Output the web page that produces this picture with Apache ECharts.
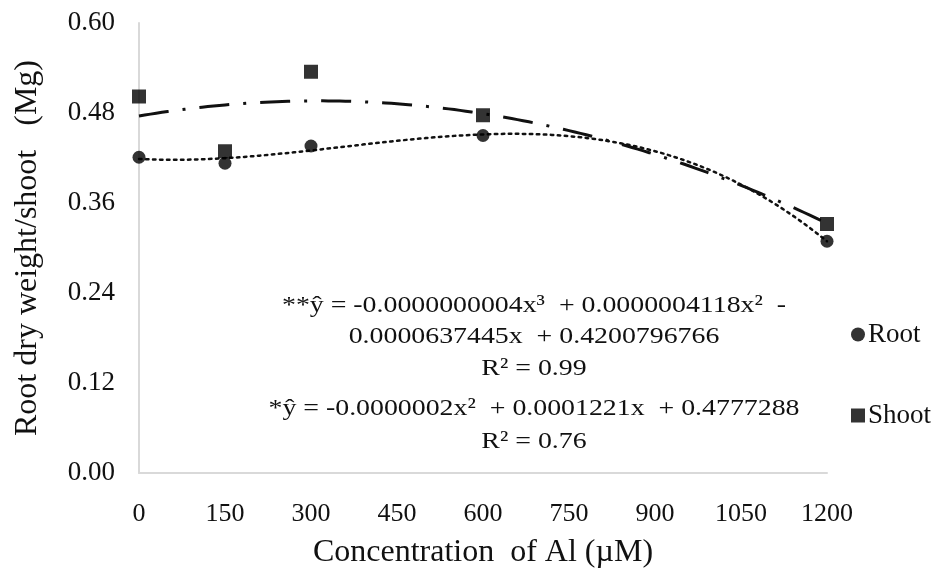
<!DOCTYPE html>
<html>
<head>
<meta charset="utf-8">
<style>
  html, body { margin: 0; padding: 0; background: #fff; }
  #chart { width: 941px; height: 574px; }
</style>
<script src="https://cdn.jsdelivr.net/npm/echarts@6/dist/echarts.min.js"></script>
</head>
<body>
<div id="chart"></div>
<script>
// Al concentrations (µM) and measured ratios
const concentrations = [0, 150, 300, 600, 1200];
const rootValues = [0.421, 0.413, 0.436, 0.450, 0.309];
const shootValues = [0.502, 0.429, 0.535, 0.477, 0.332];
const xTicks = [0, 150, 300, 450, 600, 750, 900, 1050, 1200];
const yTicks = [0.00, 0.12, 0.24, 0.36, 0.48, 0.60];

const equationLines = [
  '**ŷ = -0.0000000004x³  + 0.0000004118x²  -',
  '0.0000637445x  + 0.4200796766',
  'R² = 0.99',
  '*ŷ = -0.0000002x²  + 0.0001221x  + 0.4777288',
  'R² = 0.76'
];
const equationRows = [306, 337, 369, 409, 442];

// Least-squares polynomial fit (x scaled for numerical stability)
function polyFit(xs, ys, degree) {
  const s = 1000;
  const n = degree + 1;
  const A = Array.from({ length: n }, () => new Array(n + 1).fill(0));
  for (let k = 0; k < xs.length; k++) {
    const x = xs[k] / s;
    for (let i = 0; i < n; i++) {
      for (let j = 0; j < n; j++) A[i][j] += Math.pow(x, i + j);
      A[i][n] += ys[k] * Math.pow(x, i);
    }
  }
  for (let c = 0; c < n; c++) {
    let p = c;
    for (let r = c + 1; r < n; r++) if (Math.abs(A[r][c]) > Math.abs(A[p][c])) p = r;
    [A[c], A[p]] = [A[p], A[c]];
    for (let r = 0; r < n; r++) {
      if (r === c) continue;
      const f = A[r][c] / A[c][c];
      for (let j = c; j <= n; j++) A[r][j] -= f * A[c][j];
    }
  }
  const coef = A.map((row, i) => row[n] / row[i]);
  return x => coef.reduce((acc, a, i) => acc + a * Math.pow(x / s, i), 0);
}

function trendPoints(fn) {
  const pts = [];
  for (let x = 0; x <= 1200; x += 10) pts.push([x, fn(x)]);
  return pts;
}

const rootFit = polyFit(concentrations, rootValues, 3);
const shootFit = polyFit(concentrations, shootValues, 2);

const serif = 'Liberation Serif';
const ink = '#111';
const chart = echarts.init(document.getElementById('chart'));

chart.setOption({
  animation: false,
  backgroundColor: '#fff',
  grid: { left: 139, right: 114, top: 23, bottom: 95 },
  xAxis: {
    type: 'value',
    min: 0, max: 1200, interval: 150,
    name: 'Concentration  of Al (µM)',
    nameLocation: 'middle',
    nameGap: 64,
    nameTextStyle: { fontFamily: serif, fontSize: 32, color: ink },
    axisLine: { show: true, lineStyle: { color: '#d9d9d9', width: 2 } },
    axisTick: { show: false },
    splitLine: { show: false },
    axisLabel: { fontFamily: serif, fontSize: 26, color: ink, margin: 28,
      formatter: v => xTicks.includes(v) ? String(v) : '' }
  },
  yAxis: {
    type: 'value',
    min: 0, max: 0.6, interval: 0.12,
    name: 'Root dry weight/shoot   (Mg)',
    nameLocation: 'middle',
    nameGap: 95,
    nameTextStyle: { fontFamily: serif, fontSize: 32, color: ink },
    axisLine: { show: true, lineStyle: { color: '#d9d9d9', width: 2 } },
    axisTick: { show: false },
    splitLine: { show: false },
    axisLabel: { fontFamily: serif, fontSize: 27, color: ink, margin: 24,
      formatter: v => {
        const t = yTicks.find(y => Math.abs(y - v) < 1e-9);
        return t === undefined ? '' : t.toFixed(2);
      } }
  },
  legend: {
    orient: 'vertical',
    left: 846, top: 316,
    itemGap: 54,
    itemWidth: 14, itemHeight: 14,
    textStyle: { fontFamily: serif, fontSize: 27, color: ink, padding: [0, 0, 0, -2] },
    data: [
      { name: 'Root', icon: 'circle' },
      { name: 'Shoot', icon: 'rect' }
    ]
  },
  series: [
    {
      name: 'Root trend',
      type: 'line',
      data: trendPoints(rootFit),
      showSymbol: false,
      lineStyle: { color: ink, width: 2.5, type: [2.5, 4.5], cap: 'round' },
      z: 2
    },
    {
      name: 'Shoot trend',
      type: 'line',
      data: trendPoints(shootFit),
      showSymbol: false,
      lineStyle: { color: ink, width: 3, type: [30, 14, 3, 14] },
      z: 2
    },
    {
      name: 'Root',
      type: 'scatter',
      data: concentrations.map((x, i) => [x, rootValues[i]]),
      symbol: 'circle',
      symbolSize: 13,
      itemStyle: { color: '#000' },
      z: 3
    },
    {
      name: 'Shoot',
      type: 'scatter',
      data: concentrations.map((x, i) => [x, shootValues[i]]),
      symbol: 'rect',
      symbolSize: 14,
      itemStyle: { color: '#000' },
      z: 3
    }
  ],
  // trendline equations, each line centred on x = 534
  graphic: equationLines.map((line, i) => ({
    type: 'text',
    x: 534,
    y: equationRows[i],
    scaleX: 1.16,
    style: {
      text: line,
      align: 'center',
      verticalAlign: 'middle',
      fontFamily: serif, fontSize: 24, fill: ink
    }
  }))
});
</script>
</body>
</html>
